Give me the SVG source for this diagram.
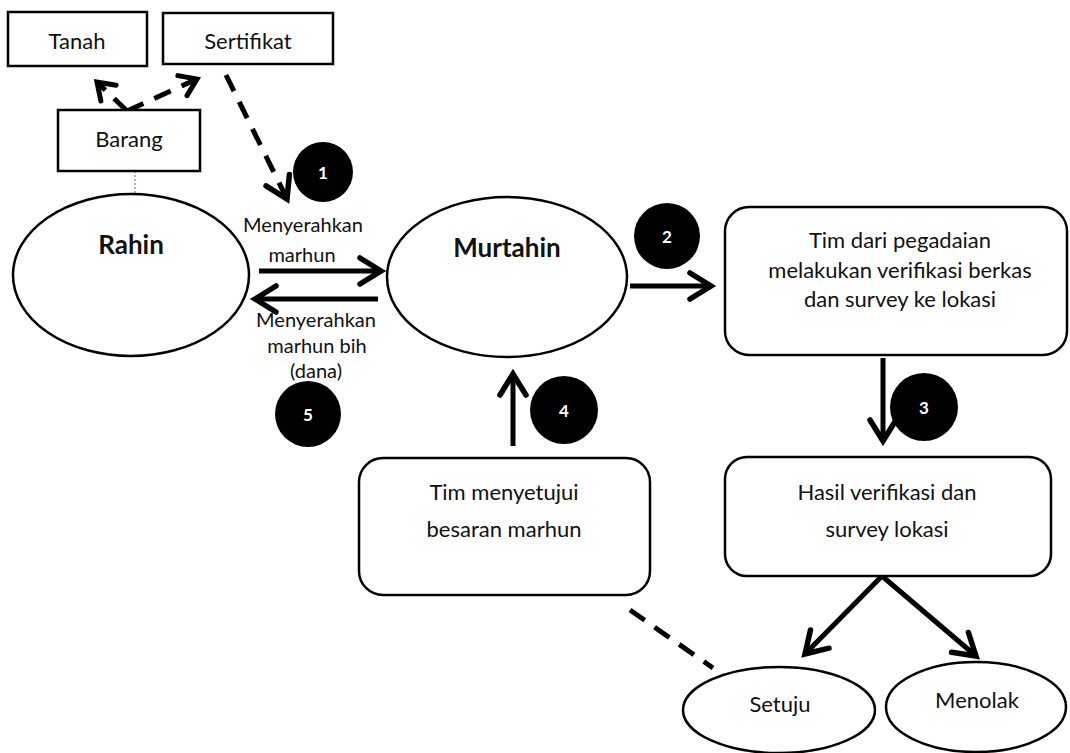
<svg xmlns="http://www.w3.org/2000/svg" width="1070" height="753" viewBox="0 0 1070 753">
<style>
  .box{fill:#fff;stroke:#000;stroke-width:2.5}
  .ell{fill:#fff;stroke:#000;stroke-width:2.5}
  .t{font-family:Lato,"Liberation Sans",sans-serif;font-size:22px;fill:#111;text-anchor:middle}
  .tb{font-family:Lato,"Liberation Sans",sans-serif;font-size:26px;font-weight:bold;fill:#111;text-anchor:middle}
  .num{fill:#000}
  .nt{font-family:Lato,"Liberation Sans",sans-serif;font-size:17px;font-weight:bold;fill:#fff;text-anchor:middle}
  .ar{fill:none;stroke:#000;stroke-width:5}
  .da{fill:none;stroke:#000;stroke-width:5;stroke-dasharray:18 12}
</style>
<defs>
  <marker id="ah" markerUnits="userSpaceOnUse" markerWidth="40" markerHeight="40" viewBox="-30 -20 40 40" refX="0" refY="0" orient="auto">
    <path d="M -21 -13 L 0 0 L -21 13" fill="none" stroke="#000" stroke-width="5.5" stroke-linecap="round" stroke-linejoin="miter" stroke-dasharray="none"/>
  </marker>
  <marker id="ahs" markerUnits="userSpaceOnUse" markerWidth="40" markerHeight="40" viewBox="-30 -20 40 40" refX="0" refY="0" orient="auto">
    <path d="M -16 -11 L 0 0 L -16 11" fill="none" stroke="#000" stroke-width="5" stroke-linecap="round" stroke-dasharray="none"/>
  </marker>
</defs>
<rect width="1070" height="753" fill="#fff"/>

<g id="connectors">
  <line x1="135" y1="171" x2="135" y2="194" stroke="#4472c4" stroke-width="1" stroke-dasharray="2 2"/>
  <line class="da" x1="127" y1="111" x2="97" y2="82" marker-end="url(#ahs)" stroke-dasharray="12 7"/>
  <line class="da" x1="127" y1="111" x2="197" y2="79" marker-end="url(#ahs)" stroke-dasharray="16 9"/>
  <line class="da" x1="226" y1="75" x2="287" y2="199" marker-end="url(#ah)"/>
  <line class="ar" x1="259" y1="271" x2="381" y2="271" marker-end="url(#ah)"/>
  <line class="ar" x1="378" y1="299" x2="255" y2="299" marker-end="url(#ah)"/>
  <line class="ar" x1="630" y1="286" x2="711" y2="286" marker-end="url(#ah)"/>
  <line class="ar" x1="883" y1="358" x2="883" y2="441" marker-end="url(#ah)"/>
  <line class="ar" x1="513" y1="446" x2="513" y2="374" marker-end="url(#ah)"/>
  <line class="ar" x1="882" y1="576" x2="805" y2="654" marker-end="url(#ah)" stroke-width="6"/>
  <line class="ar" x1="882" y1="576" x2="976" y2="656" marker-end="url(#ah)" stroke-width="6"/>
  <line class="da" x1="630" y1="610" x2="713" y2="668" stroke-dasharray="16 17"/>
</g>

<g id="tanah"><rect class="box" x="8" y="12" width="139" height="54"/><text class="t" x="77" y="49">Tanah</text></g>
<g id="sertifikat"><rect class="box" x="163" y="13" width="170" height="51"/><text class="t" x="248" y="49">Sertifikat</text></g>
<g id="barang"><rect class="box" x="58" y="110" width="142" height="61"/><text class="t" x="129" y="147">Barang</text></g>

<g id="rahin"><ellipse class="ell" cx="131" cy="275" rx="118" ry="81"/><text class="tb" x="131" y="254">Rahin</text></g>
<g id="murtahin"><ellipse class="ell" cx="507" cy="277" rx="120" ry="80"/><text class="tb" x="507" y="257">Murtahin</text></g>

<g id="label-serah">
  <text class="t" x="303" y="232" style="font-size:20px">Menyerahkan</text>
  <text class="t" x="302" y="262" style="font-size:20px">marhun</text>
</g>
<g id="label-dana">
  <text class="t" x="316" y="327" style="font-size:20px">Menyerahkan</text>
  <text class="t" x="317" y="353" style="font-size:20px">marhun bih</text>
  <text class="t" x="316" y="378" style="font-size:20px">(dana)</text>
</g>

<g id="n1"><circle class="num" cx="323" cy="172" r="30"/><text class="nt" x="323" y="179">1</text></g>
<g id="n2"><circle class="num" cx="667" cy="236" r="33"/><text class="nt" x="667" y="243">2</text></g>
<g id="n3"><circle class="num" cx="924" cy="407" r="34"/><text class="nt" x="924" y="414">3</text></g>
<g id="n4"><circle class="num" cx="564" cy="410" r="34"/><text class="nt" x="564" y="417">4</text></g>
<g id="n5"><circle class="num" cx="308" cy="414" r="33"/><text class="nt" x="308" y="421">5</text></g>

<g id="verifikasi">
  <rect class="box" x="725" y="207" width="342" height="148" rx="24"/>
  <text class="t" x="900" y="248">Tim dari pegadaian</text>
  <text class="t" x="900" y="278">melakukan verifikasi berkas</text>
  <text class="t" x="900" y="307">dan survey ke lokasi</text>
</g>
<g id="hasil">
  <rect class="box" x="725" y="457" width="326" height="119" rx="22"/>
  <text class="t" x="887" y="500">Hasil verifikasi dan</text>
  <text class="t" x="887" y="537">survey lokasi</text>
</g>
<g id="menyetujui">
  <rect class="box" x="359" y="458" width="291" height="137" rx="24"/>
  <text class="t" x="504" y="500">Tim menyetujui</text>
  <text class="t" x="504" y="537">besaran marhun</text>
</g>
<g id="setuju"><ellipse class="ell" cx="779" cy="710" rx="96" ry="43"/><text class="t" x="780" y="712">Setuju</text></g>
<g id="menolak"><ellipse class="ell" cx="976" cy="707" rx="90" ry="45"/><text class="t" x="977" y="708">Menolak</text></g>
</svg>
